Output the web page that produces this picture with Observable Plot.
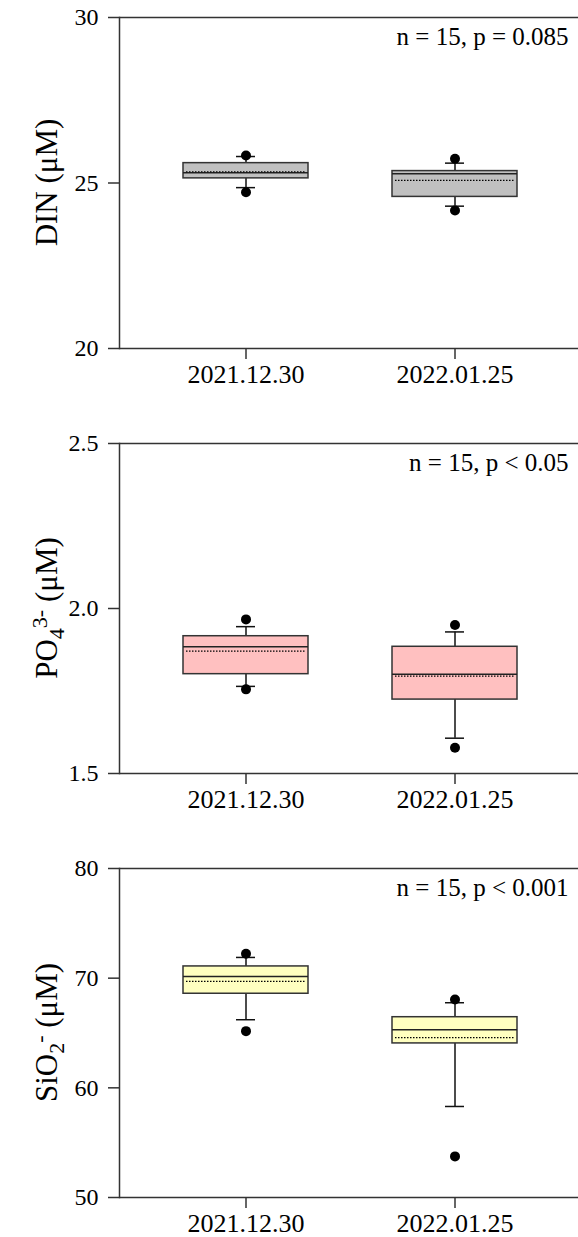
<!DOCTYPE html>
<html>
<head>
<meta charset="utf-8">
<script src="https://cdn.jsdelivr.net/npm/d3@7"></script>
<script src="https://cdn.jsdelivr.net/npm/@observablehq/plot@0.6"></script>
<style>
  html, body { margin: 0; padding: 0; background: #fff; }
  #chart svg { display: block; }
  #chart svg, #chart svg text { font-family: "Liberation Serif", serif !important; }
</style>
</head>
<body>
<div id="chart"></div>
<script>
// ---- data ----
const categories = ["2021.12.30", "2022.01.25"];

const dinQ1 = [25.14, 24.58];
const dinMedian = [25.31, 25.28];
const dinQ3 = [25.60, 25.36];
const dinMean = [25.34, 25.08];
const dinWhiskerLow = [24.86, 24.30];
const dinWhiskerHigh = [25.80, 25.60];
const dinOutlierLow = [24.72, 24.17];
const dinOutlierHigh = [25.83, 25.73];
const dinTicks = [20, 25, 30];

const po4Q1 = [1.801, 1.724];
const po4Median = [1.884, 1.801];
const po4Q3 = [1.916, 1.884];
const po4Mean = [1.871, 1.795];
const po4WhiskerLow = [1.764, 1.607];
const po4WhiskerHigh = [1.945, 1.929];
const po4OutlierLow = [1.755, 1.578];
const po4OutlierHigh = [1.967, 1.950];
const po4Ticks = [1.5, 2.0, 2.5];

const sio2Q1 = [68.58, 64.05];
const sio2Median = [70.15, 65.30];
const sio2Q3 = [71.07, 66.44];
const sio2Mean = [69.70, 64.57];
const sio2WhiskerLow = [66.21, 58.30];
const sio2WhiskerHigh = [71.89, 67.76];
const sio2OutlierLow = [65.17, 53.75];
const sio2OutlierHigh = [72.22, 68.06];
const sio2Ticks = [50, 60, 70, 80];

const annotations = ["n = 15, p = 0.085", "n = 15, p < 0.05", "n = 15, p < 0.001"];
const fills = ["#c0c0c0", "#ffc0c0", "#ffffc0"];

// ---- build ----
function rows(q1, med, q3, mean, wl, wh, ol, oh) {
  return categories.map((c, i) => ({
    cat: c, q1: q1[i], median: med[i], q3: q3[i], mean: mean[i],
    wl: wl[i], wh: wh[i], ol: ol[i], oh: oh[i]
  }));
}

const panels = [
  {data: rows(dinQ1, dinMedian, dinQ3, dinMean, dinWhiskerLow, dinWhiskerHigh, dinOutlierLow, dinOutlierHigh),
   ticks: dinTicks, fmt: d3.format("d"), label: [["DIN (μM)", null]],
   height: 426, mt: 17, mb: 78},
  {data: rows(po4Q1, po4Median, po4Q3, po4Mean, po4WhiskerLow, po4WhiskerHigh, po4OutlierLow, po4OutlierHigh),
   ticks: po4Ticks, fmt: d3.format(".1f"), label: [["PO", null], ["4", "sub"], ["3-", "sup"], [" (μM)", null]],
   height: 426, mt: 17, mb: 79},
  {data: rows(sio2Q1, sio2Median, sio2Q3, sio2Mean, sio2WhiskerLow, sio2WhiskerHigh, sio2OutlierLow, sio2OutlierHigh),
   ticks: sio2Ticks, fmt: d3.format("d"), label: [["SiO", null], ["2", "sub"], ["-", "sup"], [" (μM)", null]],
   height: 385, mt: 16, mb: 40}
];

const stroke = "#333";
const font = "Liberation Serif";
const chart = document.getElementById("chart");

panels.forEach((p, k) => {
  const yDomain = [p.ticks[0], p.ticks[p.ticks.length - 1]];
  const svg = Plot.plot({
    width: 578,
    height: p.height,
    marginLeft: 119,
    marginRight: 0,
    marginTop: p.mt,
    marginBottom: p.mb,
    style: {fontFamily: font, color: "#000", background: "#fff", overflow: "visible"},
    x: {domain: categories, paddingInner: 0.4, paddingOuter: 0.293, align: 0.512},
    y: {domain: yDomain},
    marks: [
      Plot.ruleY(yDomain, {stroke: stroke, strokeWidth: 1.5}),
      Plot.frame({anchor: "left", stroke: stroke, strokeWidth: 1.5}),
      Plot.axisY({ticks: p.ticks, tickFormat: p.fmt, tickSize: 11, tickPadding: 10, fontSize: 24, fontFamily: font, label: null, stroke: stroke, strokeWidth: 1.5}),
      Plot.axisX({tickSize: 11, tickPadding: 5, fontSize: 26, fontFamily: font, label: null, stroke: stroke, strokeWidth: 1.5}),
      // whiskers
      Plot.ruleX(p.data, {x: "cat", y1: "q3", y2: "wh", stroke: "#111", strokeWidth: 1.5}),
      Plot.ruleX(p.data, {x: "cat", y1: "q1", y2: "wl", stroke: "#111", strokeWidth: 1.5}),
      Plot.tickY(p.data, {x: "cat", y: "wh", stroke: "#111", strokeWidth: 1.5, inset: 53}),
      Plot.tickY(p.data, {x: "cat", y: "wl", stroke: "#111", strokeWidth: 1.5, inset: 53}),
      // boxes
      Plot.barY(p.data, {x: "cat", y1: "q1", y2: "q3", fill: fills[k], stroke: stroke, strokeWidth: 1.5}),
      Plot.tickY(p.data, {x: "cat", y: "median", stroke: "#222", strokeWidth: 1.5}),
      Plot.tickY(p.data, {x: "cat", y: "mean", stroke: "#000", strokeWidth: 1.2, strokeDasharray: "1.5,1.5", inset: 3}),
      // outliers
      Plot.dot(p.data, {x: "cat", y: "oh", r: 5, fill: "#000", stroke: "none"}),
      Plot.dot(p.data, {x: "cat", y: "ol", r: 5, fill: "#000", stroke: "none"}),
      // annotation
      Plot.text([annotations[k]], {frameAnchor: "top-right", dx: -10, dy: 10, fontSize: 25, fontFamily: font, textAnchor: "end", lineAnchor: "top", fill: "#000"})
    ]
  });

  // rotated y-axis title with sub/superscripts
  const plotTop = p.mt, plotBottom = p.height - p.mb;
  const cy = (plotTop + plotBottom) / 2;
  const t = d3.select(svg).append("text")
    .attr("transform", `translate(57,${cy}) rotate(-90)`)
    .attr("text-anchor", "middle")
    .attr("font-size", 31)
    .attr("fill", "#000")
    .attr("font-family", font);
  let shifted = 0;
  p.label.forEach(([s, kind]) => {
    const ts = t.append("tspan").text(s);
    if (kind === "sub") { ts.attr("dy", `${0.3 - shifted}em`).attr("font-size", 22); shifted = 0.3; }
    else if (kind === "sup") { ts.attr("dy", `${-0.45 - shifted}em`).attr("font-size", 22); shifted = -0.45; }
    else if (shifted !== 0) { ts.attr("dy", `${-shifted * 22 / 31}em`); shifted = 0; }
  });
  chart.appendChild(svg);
});
</script>
</body>
</html>
